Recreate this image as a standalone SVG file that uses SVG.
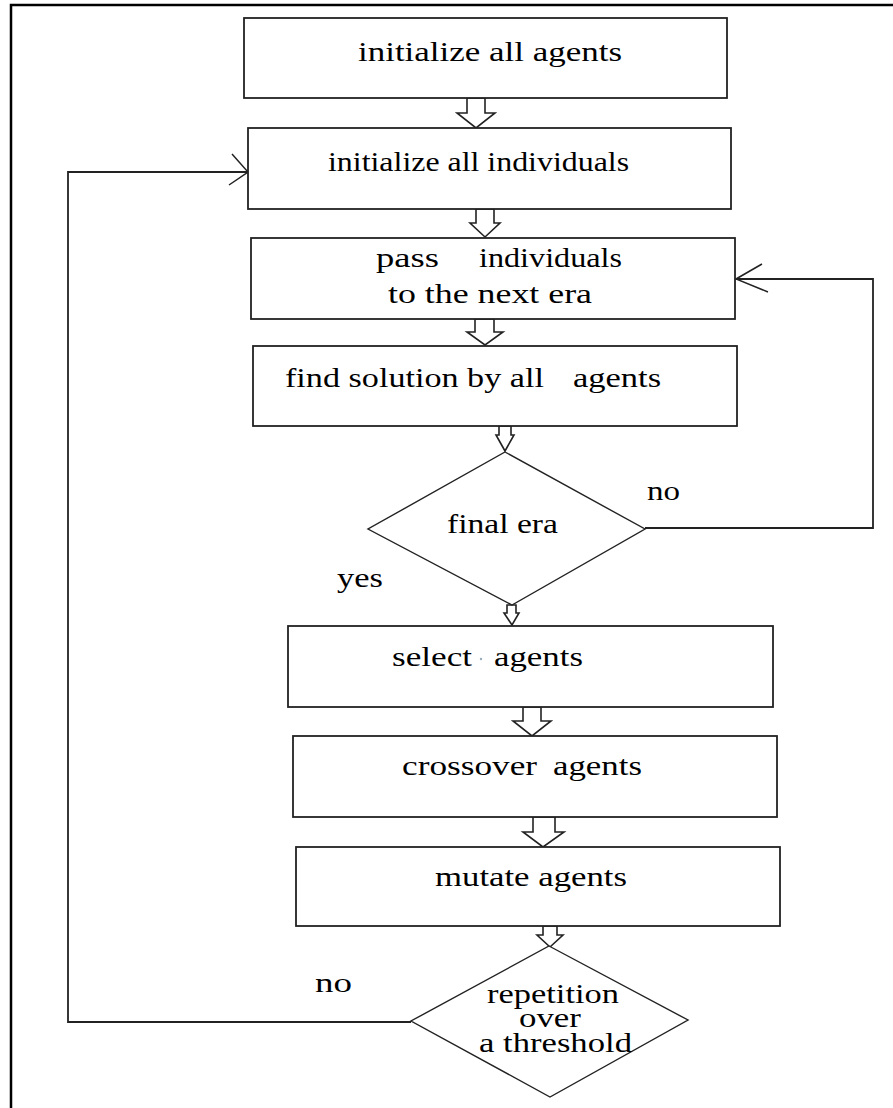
<svg xmlns="http://www.w3.org/2000/svg" width="893" height="1108" viewBox="0 0 893 1108">
<style>
.box{fill:#fff;stroke:#222;stroke-width:1.8}
.dia{fill:#fff;stroke:#222;stroke-width:1.4}
.blk{fill:#fff;stroke:#222;stroke-width:1.6;stroke-linejoin:miter}
.ln{fill:none;stroke:#222;stroke-width:1.8}
.ah{fill:none;stroke:#222;stroke-width:1.5}
text{font-family:"Liberation Serif","Times New Roman",serif;font-size:27px;fill:#000}
</style>
<rect width="893" height="1108" fill="#fff"/>
<path d="M11,1108 V5 H893" fill="none" stroke="#000" stroke-width="2.5"/>
<g id="connectors">
<polygon class="blk" points="467,98 485,98 485,113 495,113 476,128 457,113 467,113"/>
<polygon class="blk" points="476,209 494,209 494,223 500,223 485,237 470,223 476,223"/>
<polygon class="blk" points="475,319 494,319 494,332 503,332 485,345 467,332 475,332"/>
<polygon class="blk" points="499,426 511,426 511,435 514,435 505,451 496,435 499,435"/>
<polygon class="blk" points="507,605 516,605 516,613 519,613 512,625 504,613 507,613"/>
<polygon class="blk" points="523,707 541,707 541,721 551,721 532,736 513,721 523,721"/>
<polygon class="blk" points="533,817 555,817 555,832 564,832 543,847 523,832 533,832"/>
<polygon class="blk" points="543,926 557,926 557,935 563,935 550,947 537,935 543,935"/>
<polyline class="ln" points="645,528 873,528 873,279 736,279"/>
<polyline class="ah" points="762,264 736,279 768,292"/>
<polyline class="ln" points="411,1022 68,1022 68,172 248,172"/>
<polyline class="ah" points="232,154 248,172 229,185"/>
<text transform="translate(647,500) scale(1.28,1)" textLength="25.8" lengthAdjust="spacingAndGlyphs">no</text>
<text transform="translate(337,587) scale(1.28,1)" textLength="35.9" lengthAdjust="spacingAndGlyphs">yes</text>
<text transform="translate(315,992) scale(1.28,1)" textLength="28.9" lengthAdjust="spacingAndGlyphs">no</text>
</g>
<g id="n1">
<rect class="box" x="244" y="18" width="483" height="80"/>
<text transform="translate(358,61) scale(1.28,1)" textLength="206.3" lengthAdjust="spacingAndGlyphs">initialize all agents</text>
</g>
<g id="n2">
<rect class="box" x="248" y="128" width="483" height="81"/>
<text transform="translate(328,171) scale(1.28,1)" textLength="235.2" lengthAdjust="spacingAndGlyphs">initialize all individuals</text>
</g>
<g id="n3">
<rect class="box" x="251" y="238" width="484" height="81"/>
<text transform="translate(376,267) scale(1.28,1)" textLength="49.2" lengthAdjust="spacingAndGlyphs">pass</text>
<text transform="translate(479,267) scale(1.28,1)" textLength="111.7" lengthAdjust="spacingAndGlyphs">individuals</text>
<text transform="translate(388,303) scale(1.28,1)" textLength="159.4" lengthAdjust="spacingAndGlyphs">to the next era</text>
</g>
<g id="n4">
<rect class="box" x="253" y="346" width="484" height="80"/>
<text transform="translate(285,387) scale(1.28,1)" textLength="202.3" lengthAdjust="spacingAndGlyphs">find solution by all</text>
<text transform="translate(573,387) scale(1.28,1)" textLength="68.8" lengthAdjust="spacingAndGlyphs">agents</text>
</g>
<g id="n5">
<polygon class="dia" points="505,452 645,529 512,605 368,529"/>
<text transform="translate(447,533) scale(1.28,1)" textLength="86.7" lengthAdjust="spacingAndGlyphs">final era</text>
</g>
<g id="n6">
<rect class="box" x="288" y="626" width="485" height="81"/>
<text transform="translate(392,666) scale(1.28,1)" textLength="62.5" lengthAdjust="spacingAndGlyphs">select</text>
<circle cx="481" cy="659" r="1.2" fill="#9ab"/>
<text transform="translate(494,666) scale(1.28,1)" textLength="69.5" lengthAdjust="spacingAndGlyphs">agents</text>
</g>
<g id="n7">
<rect class="box" x="293" y="736" width="484" height="81"/>
<text transform="translate(402,775) scale(1.28,1)" textLength="105.5" lengthAdjust="spacingAndGlyphs">crossover</text>
<text transform="translate(553,775) scale(1.28,1)" textLength="69.5" lengthAdjust="spacingAndGlyphs">agents</text>
</g>
<g id="n8">
<rect class="box" x="296" y="847" width="484" height="79"/>
<text transform="translate(435,886) scale(1.28,1)" textLength="150" lengthAdjust="spacingAndGlyphs">mutate agents</text>
</g>
<g id="n9">
<polygon class="dia" points="549,946 688,1020 550,1097 411,1021"/>
<text transform="translate(487,1003) scale(1.28,1)" textLength="103.1" lengthAdjust="spacingAndGlyphs">repetition</text>
<text transform="translate(519,1027) scale(1.28,1)" textLength="48.4" lengthAdjust="spacingAndGlyphs">over</text>
<text transform="translate(479,1052) scale(1.28,1)" textLength="119.5" lengthAdjust="spacingAndGlyphs">a threshold</text>
</g>
</svg>
